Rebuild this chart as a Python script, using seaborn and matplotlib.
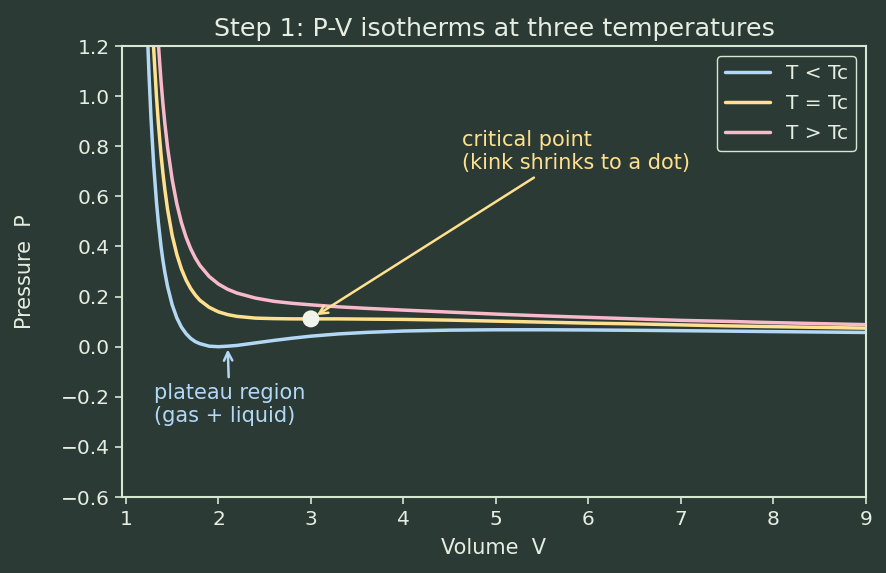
import matplotlib
matplotlib.use("Agg")
import matplotlib.pyplot as plt
import numpy as np
import pandas as pd
import seaborn as sns

# values
volume = [1.2, 1.22, 1.24, 1.25, 1.27, 1.3, 1.33, 1.35, 1.38, 1.4, 1.42, 1.45, 1.5, 1.55, 1.6,
          1.65, 1.7, 1.75, 1.8, 1.9, 2.0, 2.1, 2.2, 2.4, 2.6, 2.8, 3.0, 3.3, 3.6, 4.0, 4.5,
          5.0, 5.5, 6.0, 6.5, 7.0, 7.5, 8.0, 8.5, 9.0]
p_below = [1.667, 1.393, 1.174, 1.080, 0.918, 0.725, 0.577, 0.497, 0.398, 0.344, 0.298, 0.240,
           0.167, 0.115, 0.078, 0.052, 0.033, 0.020, 0.012, 0.002, 0.000, 0.002, 0.005, 0.015,
           0.025, 0.034, 0.042, 0.051, 0.057, 0.0625, 0.066, 0.0675, 0.0675, 0.0667, 0.0654,
           0.0638, 0.0621, 0.0602, 0.0585, 0.0567]
p_crit = [2.361, 2.025, 1.753, 1.636, 1.432, 1.188, 0.998, 0.894, 0.764, 0.692, 0.629, 0.548,
          0.444, 0.368, 0.310, 0.266, 0.232, 0.206, 0.185, 0.157, 0.139, 0.128, 0.121, 0.114,
          0.112, 0.111, 0.111, 0.111, 0.110, 0.109, 0.106, 0.102, 0.098, 0.094, 0.091, 0.087,
          0.083, 0.080, 0.077, 0.074]
p_above = [2.917, 2.530, 2.216, 2.080, 1.844, 1.558, 1.334, 1.211, 1.056, 0.969, 0.893, 0.795,
           0.667, 0.570, 0.495, 0.437, 0.391, 0.354, 0.324, 0.280, 0.250, 0.229, 0.214, 0.194,
           0.181, 0.173, 0.167, 0.159, 0.153, 0.146, 0.138, 0.130, 0.123, 0.117, 0.111, 0.105,
           0.101, 0.096, 0.092, 0.088]
labels = ["T < Tc", "T = Tc", "T > Tc"]
crit_v, crit_p = 3.0, 0.111
yticks = [-0.6, -0.4, -0.2, 0.0, 0.2, 0.4, 0.6, 0.8, 1.0, 1.2]

bg = "#2b3a34"
fg = "#e6eee3"
edge = "#d8e6d4"
colors = ["#b3d8f5", "#ffe08e", "#f8b9cb"]

sns.set_theme(style="dark")
plt.rcParams.update({
    "font.family": ["DejaVu Sans"],
    "figure.facecolor": bg,
    "axes.facecolor": bg,
    "axes.edgecolor": edge,
    "axes.labelcolor": fg,
    "text.color": fg,
    "xtick.color": edge,
    "ytick.color": edge,
    "xtick.labelcolor": fg,
    "ytick.labelcolor": fg,
    "axes.grid": False,
})

df = pd.DataFrame({"V": volume * 3,
                   "P": p_below + p_crit + p_above,
                   "curve": [labels[0]] * len(volume) + [labels[1]] * len(volume) + [labels[2]] * len(volume)})

fig, ax = plt.subplots(figsize=(8.87, 5.73), dpi=100)
fig.subplots_adjust(left=0.1375, right=0.9763, top=0.9197, bottom=0.1326)

for lab, c in zip(labels, colors):
    sns.lineplot(data=df[df["curve"] == lab], x="V", y="P", color=c, lw=2.5, label=lab, ax=ax)

ax.scatter([crit_v], [crit_p], s=150, color="#f1f4ea", zorder=5, edgecolor="none")

ax.set_xlim(0.957, 9)
ax.set_ylim(-0.6, 1.2)
ax.set_xticks(range(1, 10))
ax.set_yticks(yticks)
ax.set_yticklabels([f"{v:.1f}".replace("-", "\u2212") for v in yticks])
ax.tick_params(axis="both", which="major", length=5, width=1.2, labelsize=14.5, bottom=True, left=True,
               direction="out", pad=4)
for s in ax.spines.values():
    s.set_linewidth(1.5)
    s.set_color(edge)

ax.set_xlabel("Volume  V", fontsize=15, labelpad=7)
ax.set_ylabel("Pressure  P", fontsize=15, labelpad=18)
ax.set_title("Step 1: P-V isotherms at three temperatures", fontsize=18.3, color=fg, pad=7)

ax.annotate("critical point\n(kink shrinks to a dot)", xy=(crit_v, crit_p), xytext=(5.86, 0.78),
            ha="center", va="center", multialignment="left", fontsize=15, color=colors[1],
            arrowprops=dict(arrowstyle="->", color=colors[1], lw=1.8, shrinkB=5))
ax.annotate("plateau region\n(gas + liquid)", xy=(2.1, 0.0), xytext=(2.12, -0.232),
            ha="center", va="center", multialignment="left", fontsize=15, color=colors[0],
            arrowprops=dict(arrowstyle="->", color=colors[0], lw=1.8))

leg = ax.legend(loc="upper right", fontsize=14.5, facecolor=bg, edgecolor=edge, framealpha=1,
                fancybox=True, handlelength=2.2, labelspacing=0.55)
for t in leg.get_texts():
    t.set_color(fg)

fig.savefig("out.png", dpi=100, facecolor=bg)
